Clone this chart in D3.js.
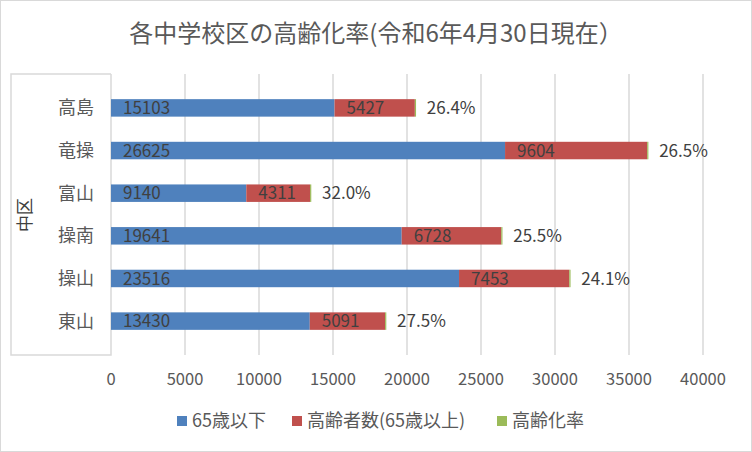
<!DOCTYPE html>
<html lang="ja">
<head>
<meta charset="utf-8">
<title>各中学校区の高齢化率</title>
<script src="https://cdn.jsdelivr.net/npm/d3@7"></script>
<style>
  body { margin: 0; background: #fff; }
  text { font-family: "Noto Sans CJK JP", "Noto Sans", sans-serif; }
</style>
</head>
<body>
<div id="chart"></div>
<script>
var w = 752, h = 452;

// data
var schools = ["高島", "竜操", "富山", "操南", "操山", "東山"];
var under65 = [15103, 26625, 9140, 19641, 23516, 13430];
var over65 = [5427, 9604, 4311, 6728, 7453, 5091];
var rate = [0.264, 0.265, 0.320, 0.255, 0.241, 0.275];
var xTicks = [0, 5000, 10000, 15000, 20000, 25000, 30000, 35000, 40000];
var seriesNames = ["65歳以下", "高齢者数(65歳以上)", "高齢化率"];
var colors = ["#4f81bd", "#c0504d", "#9bbb59"];

var svg = d3.select("#chart").append("svg")
  .attr("width", w)
  .attr("height", h);

// outer frame
svg.append("rect")
  .attr("x", 0.5).attr("y", 0.5)
  .attr("width", w - 1).attr("height", h - 1)
  .attr("fill", "#fff").attr("stroke", "#d9d9d9");

// title
svg.append("text")
  .attr("x", 376).attr("y", 33.5)
  .attr("dy", "0.36em")
  .attr("text-anchor", "middle")
  .attr("font-size", 24)
  .attr("fill", "#595959")
  .text("各中学校区の高齢化率(令和6年4月30日現在）");

var plotL = 111, plotR = 703, plotT = 74, plotB = 355;

var x = d3.scaleLinear().domain([0, 40000]).range([plotL, plotR]);
var y = d3.scaleBand().domain(schools).range([plotT, plotB]).padding(0.59);

// gridlines
svg.selectAll("line.grid")
  .data(xTicks.slice(1))
  .enter().append("line")
  .attr("class", "grid")
  .attr("x1", function(d) { return x(d); })
  .attr("x2", function(d) { return x(d); })
  .attr("y1", plotT).attr("y2", plotB)
  .attr("stroke", "#d9d9d9").attr("stroke-width", 1.5);

// category box
svg.append("path")
  .attr("d", "M" + plotL + "," + plotT + "V" + plotB + "H11V" + plotT + "H" + plotL)
  .attr("fill", "none").attr("stroke", "#d9d9d9").attr("stroke-width", 1.5);

// x tick labels
svg.selectAll("text.xt")
  .data(xTicks)
  .enter().append("text")
  .attr("class", "xt")
  .attr("x", function(d) { return x(d); })
  .attr("y", 379)
  .attr("dy", "0.36em")
  .attr("text-anchor", "middle")
  .attr("font-size", 16.5)
  .attr("fill", "#595959")
  .text(function(d) { return d; });

// category labels
svg.selectAll("text.cat")
  .data(schools)
  .enter().append("text")
  .attr("class", "cat")
  .attr("x", 94)
  .attr("y", function(d) { return y(d) + y.bandwidth() / 2; })
  .attr("dy", "0.36em")
  .attr("text-anchor", "end")
  .attr("font-size", 18)
  .attr("fill", "#595959")
  .text(function(d) { return d; });

// axis title
svg.append("text")
  .attr("transform", "translate(25,215) rotate(-90)")
  .attr("dy", "0.36em")
  .attr("text-anchor", "middle")
  .attr("font-size", 17)
  .attr("fill", "#404040")
  .text("中区");

var rows = schools.map(function(s, i) {
  return { name: s, a: under65[i], b: over65[i], r: rate[i] };
});

var stack = d3.stack().keys(["a", "b", "r"]);
var layers = stack(rows);

layers.forEach(function(layer, k) {
  svg.selectAll("rect.s" + k)
    .data(layer)
    .enter().append("rect")
    .attr("class", "s" + k)
    .attr("x", function(d) { return x(d[0]); })
    .attr("y", function(d) { return y(d.data.name); })
    .attr("width", function(d) { return Math.max(1.2, x(d[1]) - x(d[0])); })
    .attr("height", y.bandwidth())
    .attr("fill", colors[k]);
});

// value labels inside bars
[0, 1].forEach(function(k) {
  svg.selectAll("text.v" + k)
    .data(layers[k])
    .enter().append("text")
    .attr("class", "v" + k)
    .attr("x", function(d) { return x(d[0]) + 12; })
    .attr("y", function(d) { return y(d.data.name) + y.bandwidth() / 2; })
    .attr("dy", "0.36em")
    .attr("font-size", 17)
    .attr("fill", "#404040")
    .text(function(d) { return d[1] - d[0]; });
});

// rate labels
svg.selectAll("text.rate")
  .data(layers[2])
  .enter().append("text")
  .attr("class", "rate")
  .attr("x", function(d) { return x(d[1]) + 12; })
  .attr("y", function(d) { return y(d.data.name) + y.bandwidth() / 2; })
  .attr("dy", "0.36em")
  .attr("font-size", 17)
  .attr("fill", "#404040")
  .text(function(d) { return (d.data.r * 100).toFixed(1) + "%"; });

// legend
var legendX = [177, 292, 497];
seriesNames.forEach(function(n, i) {
  svg.append("rect")
    .attr("x", legendX[i]).attr("y", 416)
    .attr("width", 10).attr("height", 10)
    .attr("fill", colors[i]);
  svg.append("text")
    .attr("x", legendX[i] + 15).attr("y", 421)
    .attr("dy", "0.36em")
    .attr("font-size", 18)
    .attr("fill", "#595959")
    .text(n);
});
</script>
</body>
</html>
